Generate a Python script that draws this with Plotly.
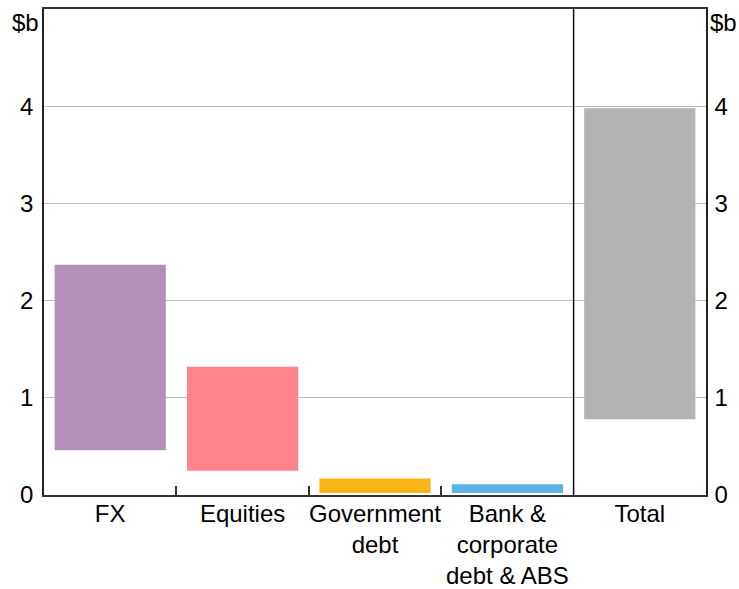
import plotly.graph_objects as go

categories = ["FX", "Equities", "Government<br>debt", "Bank &<br>corporate<br>debt & ABS", "Total"]
low_values = [0.46, 0.25, 0.02, 0.02, 0.78]
high_values = [2.37, 1.32, 0.17, 0.11, 3.98]
colors = ["#B48FBA", "#FF838D", "#FBB416", "#5AB3E4", "#B3B3B3"]
y_ticks = [0, 1, 2, 3, 4]

xpos = list(range(len(categories)))
fig = go.Figure()
fig.add_trace(go.Bar(
    x=xpos,
    y=[h - l for h, l in zip(high_values, low_values)],
    base=low_values,
    marker=dict(color=colors, line=dict(width=0)),
    width=0.84,
    showlegend=False,
))
# dummy trace for right axis
fig.add_trace(go.Scatter(x=[0], y=[0], yaxis="y2", mode="markers",
                         marker=dict(opacity=0), showlegend=False, hoverinfo="skip"))

font = dict(family="Liberation Sans, Arial, sans-serif", size=24, color="#000000")

fig.update_layout(
    width=739, height=589,
    margin=dict(l=44, r=33, t=9, b=94, autoexpand=False),
    paper_bgcolor="white", plot_bgcolor="white",
    font=font,
    xaxis=dict(
        range=[-0.5, 4.5], tickmode="array", tickvals=xpos, ticktext=categories,
        ticks="", showgrid=False, zeroline=False, automargin=False,
        showline=True, linecolor="#333333", linewidth=2, mirror=True,
        tickfont=font, ticklabelstandoff=-4,
        minor=dict(tickmode="array", tickvals=[0.5, 1.5, 2.5], ticks="inside",
                   ticklen=9, tickwidth=1.5, tickcolor="#333333", showgrid=False),
    ),
    yaxis=dict(
        range=[0, 5], tickmode="array", tickvals=y_ticks, automargin=False,
        showgrid=True, gridcolor="#BBBBBB", gridwidth=1, zeroline=False,
        showline=True, linecolor="#222222", linewidth=1.5,
        ticks="", ticklabelstandoff=4, tickfont=font,
    ),
    yaxis2=dict(
        range=[0, 5], tickmode="array", tickvals=y_ticks, overlaying="y", side="right",
        showgrid=False, zeroline=False, automargin=False,
        showline=True, linecolor="#222222", linewidth=1.5,
        ticks="", ticklabelstandoff=2, tickfont=font,
    ),
    shapes=[dict(type="line", xref="x", yref="paper", x0=3.5, x1=3.5, y0=0, y1=1,
                 line=dict(color="#111111", width=1.5))],
    annotations=[
        dict(text="$b", xref="paper", yref="paper", x=0, y=1, xanchor="right", yanchor="top",
             xshift=-3, yshift=2, showarrow=False, font=font),
        dict(text="$b", xref="paper", yref="paper", x=1, y=1, xanchor="left", yanchor="top",
             xshift=2, yshift=2, showarrow=False, font=font),
    ],
    bargap=0.16,
)

fig.write_html("out.html", config={"displayModeBar": False},
               post_script="document.body.style.margin='0';document.body.style.overflow='hidden';")
